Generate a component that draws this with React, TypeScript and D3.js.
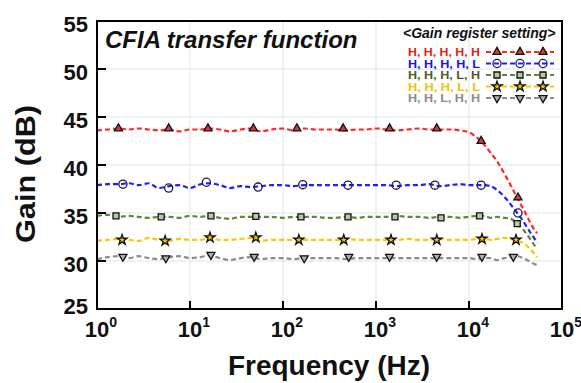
import * as d3 from "d3";
import { useRef, useEffect } from "react";

// frequency points (Hz) of the measured curves
const freqs = [1, 1.3, 1.7, 2.2, 2.8, 3.6, 4.6, 6, 7.7, 10, 13, 16, 21, 27, 35, 45, 58, 75, 100, 130, 170, 220, 290, 370, 480, 620, 800, 1000, 1300, 1700, 2200, 2900, 3700, 4800, 6200, 8000, 10000, 12000, 14000, 17000, 20000, 24000, 28000, 33000, 38000, 44000, 50000, 54000];

// gain (dB) of each register setting at the frequencies above
const gainHHHHH = [43.6, 43.7, 43.8, 43.7, 43.8, 43.7, 43.6, 43.7, 43.5, 43.7, 43.7, 43.8, 43.7, 43.5, 43.7, 43.8, 43.5, 43.7, 43.8, 43.6, 43.8, 43.7, 43.7, 43.7, 43.6, 43.7, 43.7, 43.8, 43.7, 43.6, 43.7, 43.8, 43.7, 43.7, 43.7, 43.6, 43.4, 42.9, 42.3, 41.3, 40.4, 39.1, 37.9, 36.6, 35.5, 34.3, 33.3, 32.9];
const gainHHHHL = [37.9, 38.0, 38.0, 38.1, 37.9, 38.1, 37.6, 37.8, 37.9, 37.6, 38.0, 38.1, 37.9, 37.6, 37.8, 37.7, 37.8, 37.9, 37.9, 37.8, 37.9, 37.9, 37.9, 37.9, 37.9, 37.9, 37.9, 37.9, 37.9, 37.8, 37.9, 37.9, 38.0, 37.8, 37.9, 38.0, 37.9, 37.9, 37.9, 37.8, 37.4, 36.7, 35.9, 35.0, 34.2, 33.2, 32.4, 31.9];
const gainHHHLH = [34.7, 34.8, 34.6, 34.7, 34.6, 34.5, 34.6, 34.6, 34.5, 34.7, 34.6, 34.7, 34.5, 34.4, 34.6, 34.6, 34.6, 34.6, 34.5, 34.6, 34.6, 34.6, 34.5, 34.5, 34.6, 34.5, 34.6, 34.6, 34.6, 34.7, 34.6, 34.6, 34.5, 34.6, 34.6, 34.5, 34.6, 34.7, 34.7, 34.5, 34.6, 34.5, 34.4, 33.9, 33.3, 32.5, 31.7, 31.3];
const gainHHHLL = [32.1, 32.2, 32.3, 32.2, 32.1, 32.4, 32.2, 32.1, 32.3, 32.2, 32.2, 32.4, 32.2, 32.2, 32.3, 32.4, 32.1, 32.2, 32.2, 32.2, 32.2, 32.2, 32.2, 32.2, 32.3, 32.2, 32.2, 32.2, 32.2, 32.2, 32.3, 32.2, 32.2, 32.3, 32.2, 32.2, 32.2, 32.3, 32.3, 32.2, 32.3, 32.4, 32.3, 32.1, 31.9, 31.4, 30.8, 30.4];
const gainHHLHH = [30.2, 30.4, 30.5, 30.3, 30.5, 30.3, 30.2, 30.4, 30.5, 30.3, 30.4, 30.6, 30.3, 30.1, 30.3, 30.4, 30.2, 30.3, 30.3, 30.2, 30.3, 30.3, 30.3, 30.3, 30.2, 30.3, 30.3, 30.3, 30.3, 30.3, 30.3, 30.3, 30.3, 30.3, 30.3, 30.3, 30.3, 30.2, 30.3, 30.3, 30.1, 30.3, 30.4, 30.5, 30.3, 30.0, 29.7, 29.6];

// marker frequencies and gains
const mkFreqHHHHH = [1.7, 5.9, 15.6, 48, 141, 443, 1400, 4500, 13500, 33600];
const mkGainHHHHH = [43.8, 43.8, 43.8, 43.8, 43.8, 43.8, 43.8, 43.8, 42.5, 36.6];
const mkFreqHHHHL = [1.9, 5.9, 15, 54, 163, 500, 1650, 4300, 13500, 33600];
const mkGainHHHHL = [38.0, 37.6, 38.2, 37.7, 37.95, 37.9, 37.9, 37.9, 37.9, 35.0];
const mkFreqHHHLH = [1.6, 4.9, 16.8, 51, 156, 500, 1600, 5000, 13000, 33000];
const mkGainHHHLH = [34.7, 34.6, 34.7, 34.65, 34.6, 34.6, 34.6, 34.5, 34.7, 33.9];
const mkFreqHHHLL = [1.86, 5.4, 16.4, 51, 148, 450, 1450, 4500, 13800, 32000];
const mkGainHHHLL = [32.2, 32.1, 32.45, 32.45, 32.2, 32.2, 32.2, 32.2, 32.3, 32.2];
const mkFreqHHLHH = [1.9, 5.5, 16.8, 49, 169, 510, 1400, 4500, 13800, 30000];
const mkGainHHLHH = [30.45, 30.3, 30.65, 30.45, 30.3, 30.45, 30.45, 30.45, 30.45, 30.45];

// legend labels, colours
const labels = ["H, H, H, H, H", "H, H, H, H, L", "H, H, H, L, H", "H, H, H, L, L", "H, H, L, H, H"];
const lineColors = ["#ff2626", "#1e1eff", "#5a8a38", "#ffc400", "#8c8c8c"];
const textColors = ["#e51c1c", "#1414e0", "#4f5a1f", "#f2c200", "#8a8a8a"];

const xTicks = [1, 10, 100, 1000, 10000, 100000];
const yTicks = [25, 30, 35, 40, 45, 50, 55];

export default function App() {
    const svgRef = useRef<SVGSVGElement>(null);

    useEffect(() => {
        const svg = d3.select(svgRef.current);
        svg.selectAll("*").remove();

        // plot area edges
        const left = 97, right = 562, top = 21, bottom = 309;

        const x = d3.scaleLog().domain([1, 1e5]).range([left, right]);
        const y = d3.scaleLinear().domain([25, 55]).range([bottom, top]);

        const font = "'Liberation Sans', Arial, sans-serif";

        // grid lines
        const grid = svg.append("g").attr("stroke", "#e3e3e3").attr("stroke-width", 1);
        xTicks.slice(1, -1).forEach(t => {
            grid.append("line").attr("x1", x(t)).attr("x2", x(t)).attr("y1", top).attr("y2", bottom);
        });
        yTicks.slice(1, -1).forEach(t => {
            grid.append("line").attr("x1", left).attr("x2", right).attr("y1", y(t)).attr("y2", y(t));
        });

        // series
        const gains = [gainHHHHH, gainHHHHL, gainHHHLH, gainHHHLL, gainHHLHH];
        const mkFreqs = [mkFreqHHHHH, mkFreqHHHHL, mkFreqHHHLH, mkFreqHHHLL, mkFreqHHLHH];
        const mkGains = [mkGainHHHHH, mkGainHHHHL, mkGainHHHLH, mkGainHHHLL, mkGainHHLHH];

        const line = d3.line<[number, number]>()
            .x(d => x(d[0]))
            .y(d => y(d[1]))
            .curve(d3.curveMonotoneX);

        // marker shapes per series
        const symbols = [
            { type: d3.symbolTriangle, size: 28, rot: 0, fill: "#d83a3a" },
            { type: d3.symbolCircle, size: 52, rot: 0, fill: "none" },
            { type: d3.symbolSquare, size: 36, rot: 0, fill: "#b9c9a4" },
            { type: d3.symbolStar, size: 32, rot: 0, fill: "#f5c400" },
            { type: d3.symbolTriangle, size: 28, rot: 180, fill: "#b0b0b0" },
        ];
        const drawMarker = (g: any, i: number, cx: number, cy: number) => {
            const s = symbols[i];
            g.append("path")
                .attr("d", d3.symbol().type(s.type).size(s.size)())
                .attr("transform", `translate(${cx},${cy}) rotate(${s.rot})`)
                .attr("fill", s.fill)
                .attr("stroke", i === 1 ? "#1a1a50" : "#111")
                .attr("stroke-width", 1.3);
        };

        // draw from bottom series to top
        [4, 3, 2, 1, 0].forEach(i => {
            const pts = freqs.map((f, k) => [f, gains[i][k]] as [number, number]);
            svg.append("path")
                .attr("d", line(pts))
                .attr("fill", "none")
                .attr("stroke", lineColors[i])
                .attr("stroke-width", 2.2)
                .attr("stroke-dasharray", "5 3");
            const g = svg.append("g");
            mkFreqs[i].forEach((f, k) => drawMarker(g, i, x(f), y(mkGains[i][k])));
        });

        // frame
        svg.append("rect")
            .attr("x", left).attr("y", top)
            .attr("width", right - left).attr("height", bottom - top)
            .attr("fill", "none").attr("stroke", "#000").attr("stroke-width", 2);

        // inward ticks
        const ticks = svg.append("g").attr("stroke", "#000").attr("stroke-width", 2);
        yTicks.slice(1, -1).forEach(t => {
            ticks.append("line").attr("x1", left).attr("x2", left + 9).attr("y1", y(t)).attr("y2", y(t));
        });
        xTicks.slice(1, -1).forEach(t => {
            ticks.append("line").attr("x1", x(t)).attr("x2", x(t)).attr("y1", bottom).attr("y2", bottom - 8);
        });

        // y tick labels
        yTicks.forEach(t => {
            svg.append("text")
                .attr("x", 88).attr("y", y(t) + (t === 25 ? 5 : 11))
                .attr("text-anchor", "end")
                .attr("font-family", font).attr("font-weight", "bold").attr("font-size", 22)
                .attr("fill", "#111")
                .text(t);
        });

        // x tick labels 10^n
        xTicks.forEach(t => {
            const txt = svg.append("text")
                .attr("x", x(t) + 4).attr("y", 337)
                .attr("text-anchor", "middle")
                .attr("font-family", font).attr("font-weight", "bold").attr("font-size", 22)
                .attr("fill", "#111");
            txt.append("tspan").text("10");
            txt.append("tspan").attr("dy", -10).attr("font-size", 14).text(Math.round(Math.log10(t)));
        });

        // axis titles
        svg.append("text")
            .attr("x", 329).attr("y", 375)
            .attr("text-anchor", "middle")
            .attr("font-family", font).attr("font-weight", "bold").attr("font-size", 27)
            .attr("textLength", 202).attr("lengthAdjust", "spacingAndGlyphs")
            .attr("fill", "#111")
            .text("Frequency (Hz)");
        svg.append("text")
            .attr("transform", "translate(35,174) rotate(-90)")
            .attr("text-anchor", "middle")
            .attr("font-family", font).attr("font-weight", "bold").attr("font-size", 27)
            .attr("textLength", 138).attr("lengthAdjust", "spacingAndGlyphs")
            .attr("fill", "#111")
            .text("Gain (dB)");

        // chart title
        svg.append("text")
            .attr("x", 105).attr("y", 48)
            .attr("font-family", font).attr("font-weight", "bold").attr("font-style", "italic").attr("font-size", 24)
            .attr("fill", "#111")
            .text("CFIA transfer function");

        // legend
        svg.append("text")
            .attr("x", 403).attr("y", 38)
            .attr("font-family", font).attr("font-weight", "bold").attr("font-style", "italic").attr("font-size", 14)
            .attr("fill", "#111")
            .text("<Gain register setting>");

        const rowY = [56, 67.5, 79, 90.5, 102];
        labels.forEach((lab, i) => {
            svg.append("text")
                .attr("x", 480).attr("y", rowY[i])
                .attr("text-anchor", "end")
                .attr("font-family", font).attr("font-weight", "bold").attr("font-size", 11)
                .attr("textLength", 72).attr("lengthAdjust", "spacingAndGlyphs")
                .attr("fill", textColors[i])
                .text(lab);
            const ly = rowY[i] - 4;
            svg.append("line")
                .attr("x1", 486).attr("x2", 554).attr("y1", ly).attr("y2", ly)
                .attr("stroke", lineColors[i]).attr("stroke-width", 2).attr("stroke-dasharray", "5 3");
            const g = svg.append("g");
            [497, 520, 543].forEach(mx => drawMarker(g, i, mx, ly));
        });
    }, []);

    return (
        <svg ref={svgRef} width={581} height={383}
            style={{ position: "absolute", left: 0, top: 0, background: "#fff" }} />
    );
}
